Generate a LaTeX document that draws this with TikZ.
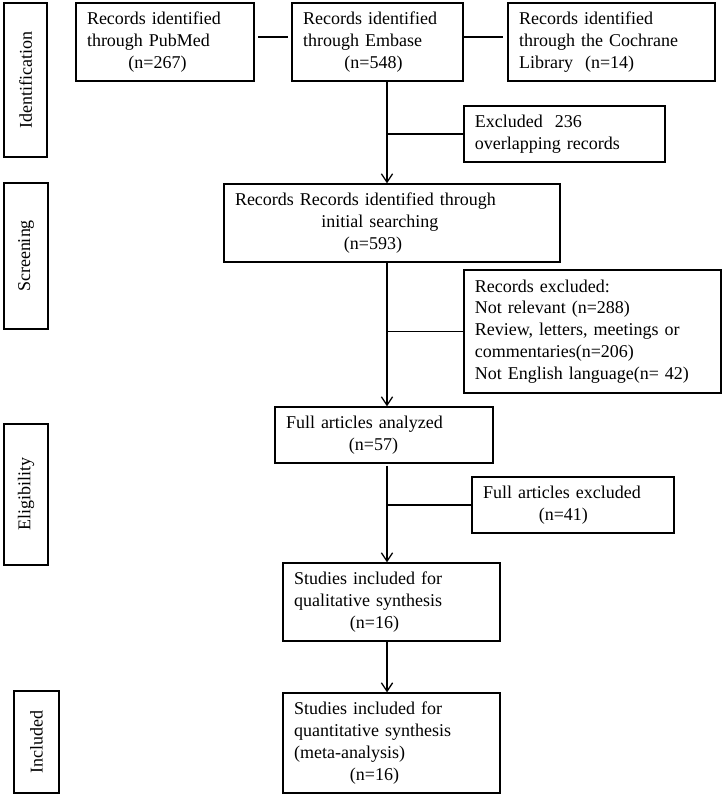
\documentclass[tikz,border=0pt]{standalone}
\usepackage{fontspec}
\setmainfont{Liberation Serif}
\usetikzlibrary{arrows.meta}

\begin{document}
\begin{tikzpicture}[
  font=\fontsize{12.8}{15.6}\selectfont,
  box/.style={draw, line width=0.9pt, align=left, inner xsep=0.275cm, inner ysep=0pt},
  side/.style={draw, line width=0.9pt, rotate=90, inner sep=0pt},
  link/.style={line width=0.9pt},
  arr/.style={line width=0.9pt, -{Straight Barb[length=6pt,width=8pt]}}
]
  % Page size
  \useasboundingbox (0,0) rectangle (18.1,19.9);

  % Phase labels on the left
  \node[side, minimum width=3.85cm, minimum height=1.075cm] (ident) at (0.64,17.9) {Identification};
  \node[side, minimum width=3.65cm, minimum height=1.1cm] (screen) at (0.65,13.5) {Screening};
  \node[side, minimum width=3.525cm, minimum height=1.1cm] (elig) at (0.65,7.54) {Eligibility};
  \node[side, minimum width=2.55cm, minimum height=1.125cm] (incl) at (0.91,1.35) {Included};

  % Databases
  \node[box, text width=3.9cm, minimum height=1.95cm] (pubmed) at (4.125,18.85)
    {Records identified\\through PubMed\\\hspace*{2.3em}(n=267)};
  \node[box, text width=3.725cm, minimum height=1.95cm] (embase) at (9.44,18.85)
    {Records identified\\through Embase\\\hspace*{2.3em}(n=548)};
  \node[box, text width=4.625cm, minimum height=1.95cm] (cochrane) at (15.29,18.85)
    {Records identified\\through the Cochrane\\Library \ (n=14)};

  % Main flow
  \node[box, text width=4.475cm, minimum height=1.4cm] (dup) at (14.11,16.55)
    {Excluded \ 236\\overlapping records};
  \node[box, text width=7.85cm, minimum height=1.95cm] (search) at (9.8,14.325)
    {Records Records identified through\\\hspace*{4.8em}initial searching\\\hspace*{6.05em}(n=593)};
  \node[box, text width=5.875cm, minimum height=3.075cm] (excl) at (14.81,11.61)
    {Records excluded:\\Not relevant (n=288)\\Review, letters, meetings or\\commentaries(n=206)\\Not English language(n= 42)};
  \node[box, text width=4.9cm, minimum height=1.4cm] (full) at (9.6,9.025)
    {Full articles analyzed\\\hspace*{3.5em}(n=57)};
  \node[box, text width=4.5cm, minimum height=1.4cm] (fullex) at (14.325,7.275)
    {Full articles excluded\\\hspace*{3.1em}(n=41)};
  \node[box, text width=4.875cm, minimum height=1.95cm] (qual) at (9.79,4.85)
    {Studies included for\\qualitative synthesis\\\hspace*{3.1em}(n=16)};
  \node[box, text width=4.875cm, minimum height=2.5cm] (quant) at (9.79,1.325)
    {Studies included for\\quantitative synthesis\\(meta-analysis)\\\hspace*{3.1em}(n=16)};

  % Connectors
  \coordinate (trunk) at (9.675,0);
  \draw[link, shorten <=2.5pt, shorten >=2.5pt] ([yshift=3.5pt]pubmed.east) -- ([yshift=3.5pt]embase.west);
  \draw[link, shorten >=3pt] ([yshift=3.5pt]embase.east) -- ([yshift=3.5pt]cochrane.west);
  \draw[arr] (trunk |- embase.south) -- (trunk |- search.north);
  \draw[link] (trunk |- dup.west) -- (dup.west);
  \draw[arr] (trunk |- search.south) -- (trunk |- full.north);
  \draw[link] (trunk |- excl.west) -- (excl.west);
  \draw[arr, shorten <=1.5pt] (trunk |- full.south) -- (trunk |- qual.north);
  \draw[link] (trunk |- fullex.west) -- (fullex.west);
  \draw[arr] (trunk |- qual.south) -- (trunk |- quant.north);
\end{tikzpicture}
\end{document}
